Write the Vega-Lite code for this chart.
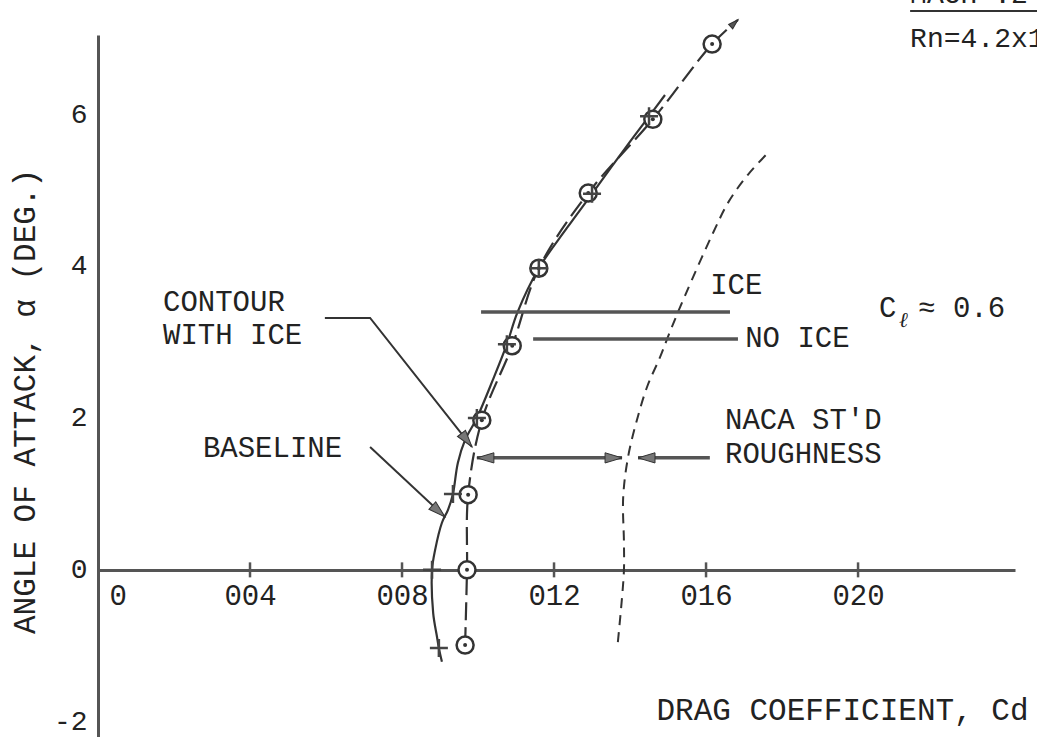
{
  "$schema": "https://vega.github.io/schema/vega-lite/v6.json",
  "width": 917,
  "height": 702,
  "autosize": "none",
  "padding": {"left": 98, "top": 35, "right": 22, "bottom": 0},
  "background": "white",
  "config": {"view": {"stroke": null}, "font": "Liberation Mono", "text": {"font": "Liberation Mono", "color": "#222"}},
  "datasets": {
    "ice": [
      {"cd": 0.00905, "a": -1.21}, {"cd": 0.00897, "a": -1.03}, {"cd": 0.00892, "a": -0.88}, {"cd": 0.00882, "a": -0.57},
      {"cd": 0.00879, "a": 0}, {"cd": 0.00887, "a": 0.26}, {"cd": 0.00905, "a": 0.62}, {"cd": 0.00921, "a": 0.79},
      {"cd": 0.00934, "a": 1.0}, {"cd": 0.00947, "a": 1.41}, {"cd": 0.00966, "a": 1.71}, {"cd": 0.00997, "a": 2.0},
      {"cd": 0.01039, "a": 2.5}, {"cd": 0.01076, "a": 2.97}, {"cd": 0.01103, "a": 3.38}, {"cd": 0.0116, "a": 3.97},
      {"cd": 0.01234, "a": 4.5}, {"cd": 0.013, "a": 4.95}, {"cd": 0.01374, "a": 5.46}, {"cd": 0.0145, "a": 5.97},
      {"cd": 0.01492, "a": 6.25}
    ],
    "iceMarks": [
      {"cd": 0.00897, "a": -1.03}, {"cd": 0.00879, "a": 0}, {"cd": 0.00934, "a": 1.0}, {"cd": 0.00997, "a": 2.0},
      {"cd": 0.01076, "a": 2.97}, {"cd": 0.0116, "a": 3.97}, {"cd": 0.013, "a": 4.95}, {"cd": 0.0145, "a": 5.97}
    ],
    "base": [
      {"cd": 0.00966, "a": -0.99}, {"cd": 0.00971, "a": 0}, {"cd": 0.00974, "a": 0.99}, {"cd": 0.0101, "a": 1.97},
      {"cd": 0.0109, "a": 2.95}, {"cd": 0.0116, "a": 3.97}, {"cd": 0.0129, "a": 4.96}, {"cd": 0.0146, "a": 5.93},
      {"cd": 0.01616, "a": 6.92}, {"cd": 0.01684, "a": 7.24}
    ],
    "baseMarks": [
      {"cd": 0.00966, "a": -0.99}, {"cd": 0.00971, "a": 0}, {"cd": 0.00974, "a": 0.99}, {"cd": 0.0101, "a": 1.97},
      {"cd": 0.0109, "a": 2.95}, {"cd": 0.0116, "a": 3.97}, {"cd": 0.0129, "a": 4.96}, {"cd": 0.0146, "a": 5.93},
      {"cd": 0.01616, "a": 6.92}
    ],
    "naca": [
      {"cd": 0.01368, "a": -0.95}, {"cd": 0.01379, "a": -0.36}, {"cd": 0.01384, "a": 0}, {"cd": 0.01384, "a": 0.36},
      {"cd": 0.01382, "a": 0.96}, {"cd": 0.01395, "a": 1.49}, {"cd": 0.01418, "a": 1.97}, {"cd": 0.01445, "a": 2.41},
      {"cd": 0.01479, "a": 2.8}, {"cd": 0.015, "a": 3.07}, {"cd": 0.01526, "a": 3.39}, {"cd": 0.01563, "a": 3.82},
      {"cd": 0.01618, "a": 4.43}, {"cd": 0.0166, "a": 4.85}, {"cd": 0.0171, "a": 5.2}, {"cd": 0.01765, "a": 5.5}
    ],
    "leaders": [
      {"id": "contour", "ord": 1, "cd": 0.00597, "a": 3.316}, {"id": "contour", "ord": 2, "cd": 0.00716, "a": 3.316}, {"id": "contour", "ord": 3, "cd": 0.00984, "a": 1.62},
      {"id": "baseline", "ord": 1, "cd": 0.00716, "a": 1.618}, {"id": "baseline", "ord": 2, "cd": 0.00913, "a": 0.697}
    ],
    "bars": [
      {"id": "ice", "ord": 1, "cd": 0.01008, "a": 3.395}, {"id": "ice", "ord": 2, "cd": 0.01663, "a": 3.395},
      {"id": "noice", "ord": 1, "cd": 0.01145, "a": 3.04}, {"id": "noice", "ord": 2, "cd": 0.01684, "a": 3.04},
      {"id": "dbl", "ord": 1, "cd": 0.00997, "a": 1.474}, {"id": "dbl", "ord": 2, "cd": 0.01379, "a": 1.474},
      {"id": "rough", "ord": 1, "cd": 0.01421, "a": 1.474}, {"id": "rough", "ord": 2, "cd": 0.0161, "a": 1.474}
    ],
    "underline": [
      {"id": "mach", "ord": 1, "cd": 0.02137, "a": 7.355}, {"id": "mach", "ord": 2, "cd": 0.0248, "a": 7.355}
    ],
    "arrows": [
      {"dir": "contour", "cd": 0.00984, "a": 1.62},
      {"dir": "baseline", "cd": 0.00913, "a": 0.697},
      {"dir": "left", "cd": 0.00997, "a": 1.474},
      {"dir": "right", "cd": 0.01379, "a": 1.474},
      {"dir": "left", "cd": 0.01421, "a": 1.474},
      {"dir": "end", "cd": 0.01684, "a": 7.24}
    ],
    "xticks": [{"cd": 0.004, "a": 0}, {"cd": 0.008, "a": 0}, {"cd": 0.012, "a": 0}, {"cd": 0.016, "a": 0}, {"cd": 0.02, "a": 0}],
    "yticks": [{"a": 6}, {"a": 4}, {"a": 2}, {"a": -2}],
    "notes": [
      {"t": "CONTOUR", "cd": 0.00171, "a": 3.526},
      {"t": "WITH ICE", "cd": 0.00171, "a": 3.092},
      {"t": "BASELINE", "cd": 0.00276, "a": 1.605},
      {"t": "ICE", "cd": 0.01611, "a": 3.75},
      {"t": "NO ICE", "cd": 0.01703, "a": 3.053},
      {"t": "NACA ST'D", "cd": 0.0165, "a": 1.97},
      {"t": "ROUGHNESS", "cd": 0.0165, "a": 1.53},
      {"t": "C", "cd": 0.02055, "a": 3.447},
      {"t": "≈ 0.6", "cd": 0.02158, "a": 3.447}
    ],
    "subs": [{"t": "ℓ", "cd": 0.02108, "a": 3.276}],
    "heads": [
      {"t": "Rn=4.2x10⁶", "cd": 0.02137, "a": 6.987},
      {"t": "MACH .2", "cd": 0.02137, "a": 7.56}
    ]
  },
  "encoding": {
    "x": {
      "field": "cd", "type": "quantitative",
      "scale": {"domain": [0, 0.02413], "nice": false, "zero": false},
      "axis": {
        "orient": "bottom", "offset": -167, "grid": false, "ticks": false,
        "values": [0, 0.004, 0.008, 0.012, 0.016, 0.02],
        "labelExpr": "datum.value == 0 ? '0' : format(datum.value * 1000, '03d')",
        "labelOffset": {"condition": {"test": "datum.value == 0", "value": 11}, "value": 0},
        "labelPadding": 11, "labelFontSize": 29, "labelFont": "Liberation Mono", "labelColor": "#222",
        "domainColor": "#555", "domainWidth": 3,
        "title": "DRAG COEFFICIENT, Cd", "titleX": 930, "titleY": 140, "titleAlign": "right", "titleBaseline": "middle",
        "titleFontSize": 31, "titleFontWeight": "normal", "titleFont": "Liberation Mono", "titleColor": "#222"
      }
    },
    "y": {
      "field": "a", "type": "quantitative",
      "scale": {"domain": [-2.2, 7.04], "nice": false, "zero": false},
      "axis": {
        "grid": false, "ticks": false, "values": [-2, 0, 2, 4, 6],
        "labelExpr": "datum.value < 0 ? '-' + abs(datum.value) : '' + datum.value",
        "labelPadding": 11, "labelFontSize": 28, "labelFont": "Liberation Mono", "labelColor": "#222",
        "domainColor": "#555", "domainWidth": 3,
        "title": "ANGLE OF ATTACK, α (DEG.)", "titleX": -64, "titleY": 366, "titleAngle": -90,
        "titleAlign": "center", "titleBaseline": "alphabetic",
        "titleFontSize": 31, "titleFontWeight": "normal", "titleFont": "Liberation Mono", "titleColor": "#222"
      }
    }
  },
  "layer": [
    {"data": {"name": "naca"}, "mark": {"type": "line", "color": "#333", "strokeWidth": 2, "strokeDash": [10, 7], "interpolate": "catmull-rom"}, "encoding": {"order": {"field": "a", "type": "quantitative"}}},
    {"data": {"name": "base"}, "mark": {"type": "line", "color": "#333", "strokeWidth": 2.2, "strokeDash": [18, 7], "interpolate": "catmull-rom"}, "encoding": {"order": {"field": "a", "type": "quantitative"}}},
    {"data": {"name": "ice"}, "mark": {"type": "line", "color": "#333", "strokeWidth": 2.2, "interpolate": "catmull-rom"}, "encoding": {"order": {"field": "a", "type": "quantitative"}}},
    {"data": {"name": "bars"}, "mark": {"type": "line", "color": "#555", "strokeWidth": 3.5}, "encoding": {"detail": {"field": "id"}, "order": {"field": "ord", "type": "quantitative"}}},
    {"data": {"name": "underline"}, "mark": {"type": "line", "color": "#333", "strokeWidth": 2, "clip": false}, "encoding": {"detail": {"field": "id"}, "order": {"field": "ord", "type": "quantitative"}}},
    {"data": {"name": "leaders"}, "mark": {"type": "line", "color": "#333", "strokeWidth": 2}, "encoding": {"detail": {"field": "id"}, "order": {"field": "ord", "type": "quantitative"}}},
    {"data": {"name": "baseMarks"}, "mark": {"type": "point", "shape": "circle", "size": 289, "fill": "white", "fillOpacity": 1, "stroke": "#333", "strokeWidth": 2.5}},
    {"data": {"name": "baseMarks"}, "mark": {"type": "point", "shape": "circle", "size": 16, "filled": true, "color": "#333", "opacity": 1}},
    {"data": {"name": "iceMarks"}, "mark": {"type": "point", "shape": "M-1,0L1,0M0,-1L0,1", "size": 324, "filled": false, "stroke": "#444", "strokeWidth": 2.5, "opacity": 1}},
    {"data": {"name": "arrows"}, "transform": [{"filter": "datum.dir == 'contour'"}], "mark": {"type": "point", "shape": "M0,0L0.6,2L-0.6,2Z", "size": 289, "angle": 142, "filled": true, "fill": "#777", "stroke": "#333", "strokeWidth": 1, "opacity": 1}},
    {"data": {"name": "arrows"}, "transform": [{"filter": "datum.dir == 'baseline'"}], "mark": {"type": "point", "shape": "M0,0L0.6,2L-0.6,2Z", "size": 289, "angle": 132, "filled": true, "fill": "#777", "stroke": "#333", "strokeWidth": 1, "opacity": 1}},
    {"data": {"name": "arrows"}, "transform": [{"filter": "datum.dir == 'left'"}], "mark": {"type": "point", "shape": "M0,0L0.6,2L-0.6,2Z", "size": 289, "angle": 270, "filled": true, "fill": "#777", "stroke": "#333", "strokeWidth": 1, "opacity": 1}},
    {"data": {"name": "arrows"}, "transform": [{"filter": "datum.dir == 'right'"}], "mark": {"type": "point", "shape": "M0,0L0.6,2L-0.6,2Z", "size": 289, "angle": 90, "filled": true, "fill": "#777", "stroke": "#333", "strokeWidth": 1, "opacity": 1}},
    {"data": {"name": "arrows"}, "transform": [{"filter": "datum.dir == 'end'"}], "mark": {"type": "point", "shape": "M0,0L0.6,2L-0.6,2Z", "size": 100, "angle": 47, "filled": true, "fill": "#555", "stroke": "#333", "strokeWidth": 1, "opacity": 1, "clip": false}},
    {"data": {"name": "xticks"}, "mark": {"type": "tick", "orient": "vertical", "size": 15, "thickness": 2.5, "color": "#555", "opacity": 1}},
    {"data": {"name": "yticks"}, "mark": {"type": "rule", "color": "#555", "strokeWidth": 2.5}, "encoding": {"x": {"datum": 0, "type": "quantitative"}, "x2": {"datum": 0.00028}}},
    {"data": {"name": "notes"}, "mark": {"type": "text", "align": "left", "baseline": "middle", "fontSize": 29, "font": "Liberation Mono", "color": "#222", "clip": false}, "encoding": {"text": {"field": "t"}}},
    {"data": {"name": "subs"}, "mark": {"type": "text", "align": "left", "baseline": "middle", "fontSize": 21, "fontStyle": "italic", "font": "DejaVu Serif", "color": "#222", "clip": false}, "encoding": {"text": {"field": "t"}}},
    {"data": {"name": "heads"}, "mark": {"type": "text", "align": "left", "baseline": "middle", "fontSize": 28, "font": "Liberation Mono", "color": "#222", "clip": false}, "encoding": {"text": {"field": "t"}}}
  ]
}
